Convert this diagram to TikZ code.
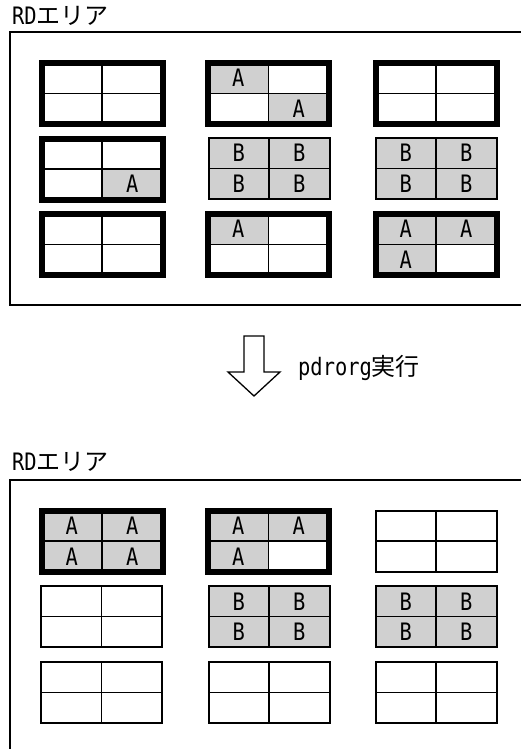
\documentclass[tikz,border=0pt]{standalone}
\usepackage{fontspec}
\setmainfont{Noto Sans CJK JP}
\newfontfamily\latmono[FakeStretch=0.85]{DejaVu Sans Mono}
\newfontfamily\jpgothic{Noto Sans CJK JP}
\definecolor{cellgray}{RGB}{208,208,208}
\tikzset{
  every node/.style={font=\fontsize{24}{24}\selectfont},
  cellw/.style={draw, line width=1.5pt, fill=white, minimum width=60.5pt, minimum height=30.5pt, inner sep=0pt, outer sep=0pt, font=\fontsize{24}{24}\selectfont\latmono},
  cellg/.style={cellw, fill=cellgray},
  heavy/.style={draw, line width=6pt, line join=miter},
  light/.style={draw, line width=2pt},
  areaframe/.style={draw, line width=1.3pt},
  lbl/.style={anchor=base west, inner sep=0pt},
  hollowarrow/.style={draw, line width=1.3pt, fill=white, line join=miter}
}
\newcommand{\rdcell}[4]{%
  \if\relax\detokenize{#4}\relax
    \node[cellw] (#1) at (#2,#3) {};
  \else
    \node[cellg] (#1) at (#2,#3) {#4};
  \fi}
% #1 name, #2 cx, #3 cy, #4 frame style, #5-#8 labels TL TR BL BR
\newcommand{\rdbox}[8]{%
  \rdcell{#1-tl}{#2-30.25}{#3-15.25}{#5}
  \rdcell{#1-tr}{#2+30.25}{#3-15.25}{#6}
  \rdcell{#1-bl}{#2-30.25}{#3+15.25}{#7}
  \rdcell{#1-br}{#2+30.25}{#3+15.25}{#8}
  \draw[#4] (#1-tl.north west) rectangle (#1-br.south east);}
\begin{document}
\begin{tikzpicture}[x=1pt,y=-1pt]
\useasboundingbox (0,0) rectangle (521,749);
% top area
\node[lbl] (toplabel) at (12,25) {{\latmono RD}{\jpgothic エリア}};
\draw[areaframe] (10,32) rectangle (540,305);
\rdbox{t11}{102}{93.5}{heavy}{}{}{}{}
\rdbox{t12}{268.5}{93.5}{heavy}{A}{}{}{A}
\rdbox{t13}{436}{93.5}{heavy}{}{}{}{}
\rdbox{t21}{102}{169}{heavy}{}{}{}{A}
\rdbox{t22}{269}{168.5}{light}{B}{B}{B}{B}
\rdbox{t23}{436}{168.5}{light}{B}{B}{B}{B}
\rdbox{t31}{102}{244.5}{heavy}{}{}{}{}
\rdbox{t32}{268.5}{244.5}{heavy}{A}{}{}{}
\rdbox{t33}{436}{244.5}{heavy}{A}{A}{A}{}
% arrow
\draw[hollowarrow] (244,336) -- (264,336) -- (264,372) -- (280,372) -- (254,396) -- (228,372) -- (244,372) -- cycle;
\node[lbl] (cmd) at (298,375) {{\latmono pdrorg}{\jpgothic 実行}};
% bottom area
\node[lbl] (botlabel) at (12,470) {{\latmono RD}{\jpgothic エリア}};
\draw[areaframe] (10,480) rectangle (540,770);
\rdbox{b11}{102}{541}{heavy}{A}{A}{A}{A}
\rdbox{b12}{268.5}{541}{heavy}{A}{A}{A}{}
\rdbox{b13}{436}{541}{light}{}{}{}{}
\rdbox{b21}{101.5}{616.5}{light}{}{}{}{}
\rdbox{b22}{269}{616.5}{light}{B}{B}{B}{B}
\rdbox{b23}{436}{616.5}{light}{B}{B}{B}{B}
\rdbox{b31}{101.5}{692.5}{light}{}{}{}{}
\rdbox{b32}{269}{692.5}{light}{}{}{}{}
\rdbox{b33}{436}{692.5}{light}{}{}{}{}
\end{tikzpicture}
\end{document}
